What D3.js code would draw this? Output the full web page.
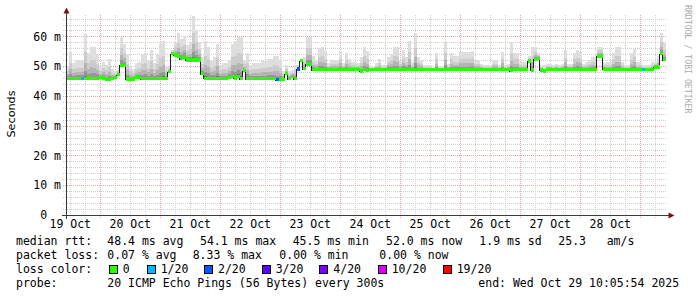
<!DOCTYPE html>
<html>
<head>
<meta charset="utf-8">
<script src="https://cdn.jsdelivr.net/npm/d3@7"></script>
<style>
  body { margin: 0; background: #fff; }
  svg text { font-family: "DejaVu Sans Mono", monospace; font-size: 11.5px; fill: #000; white-space: pre; }
</style>
</head>
<body>
<div id="chart"></div>
<script>
/* ::::::::::::::::::::::::::::::::::::::::::::::::::::::::::::::::::::::::::::::::::::: */
/* @@@ DATAS @@@ */
/* ::::::::::::::::::::::::::::::::::::::::::::::::::::::::::::::::::::::::::::::::::::: */

/* median rtt (ms), one value per 72 min, 19 Oct 10:05 -> 29 Oct 10:05 */
let median = [
  45.9, 45.9, 45.9, 45.9, 45.9, 45.9, 45.9, 46.0, 45.9, 45.8, 45.9, 46.2, 46.0, 45.7, 45.6, 45.9, 46.2, 47.1, 50.3, 50.2,
  45.7, 45.7, 45.7, 46.2, 46.3, 45.8, 45.8, 45.8, 45.8, 45.8, 45.8, 45.8, 45.8, 45.8, 48.2, 54.2, 53.8, 53.4, 52.5, 53.1,
  52.1, 52.1, 52.1, 52.1, 52.1, 47.5, 45.9, 45.9, 45.9, 45.9, 45.9, 45.8, 45.8, 45.8, 46.3, 46.5, 46.0, 46.6, 45.8, 48.5,
  45.8, 45.8, 45.8, 45.8, 45.8, 45.8, 45.8, 45.8, 45.8, 45.8, 45.5, 45.5, 45.5, 47.5, 45.8, 46.5, 45.8, 49.1, 51.9, 49.2,
  50.7, 50.6, 48.8, 48.8, 48.8, 48.8, 48.8, 48.8, 48.8, 48.8, 48.8, 48.8, 48.8, 48.8, 48.8, 48.8, 48.8, 48.8, 48.4, 48.8,
  48.6, 48.9, 48.9, 48.9, 48.9, 48.9, 48.9, 48.9, 48.9, 48.9, 48.8, 48.9, 48.9, 48.9, 48.9, 48.9, 48.9, 48.8, 48.9, 48.9,
  48.9, 48.9, 48.9, 48.9, 48.9, 48.9, 48.9, 48.9, 48.9, 48.9, 48.9, 48.9, 48.9, 48.9, 48.9, 48.9, 48.9, 48.9, 48.9, 48.9,
  48.9, 48.9, 48.9, 48.9, 48.9, 48.9, 48.9, 48.9, 48.5, 48.9, 48.9, 48.9, 48.8, 48.8, 51.7, 48.7, 52.3, 52.6, 48.7, 48.4,
  49.0, 48.9, 48.9, 48.9, 48.9, 48.9, 48.9, 48.9, 48.9, 48.9, 48.9, 48.9, 48.9, 48.9, 48.9, 48.9, 48.9, 53.4, 53.4, 49.1,
  48.9, 48.8, 48.8, 48.8, 48.8, 48.8, 48.8, 48.8, 48.8, 48.8, 48.8, 48.8, 48.8, 48.8, 48.8, 48.8, 49.7, 49.7, 54.2, 52.2
]

/* highest ping of each step (ms) = top of the smoke */
let smokeTop = [
  50.0, 54.8, 51.0, 52.0, 52.0, 52.0, 60.7, 54.5, 56.4, 56.4, 54.0, 50.0, 51.5, 50.5, 52.5, 49.0, 48.5, 49.5, 59.9, 57.5,
  54.0, 50.0, 49.0, 51.0, 51.5, 54.0, 54.5, 52.0, 55.5, 51.0, 54.0, 57.5, 58.6, 50.0, 50.0, 55.5, 58.0, 61.0, 59.0, 60.0,
  57.0, 58.0, 67.0, 62.0, 58.0, 53.0, 58.6, 56.5, 52.0, 53.0, 57.5, 50.5, 51.0, 51.0, 52.0, 57.5, 58.6, 59.7, 59.7, 52.0,
  54.5, 50.5, 51.0, 51.0, 51.0, 51.8, 51.8, 52.3, 52.3, 53.3, 53.3, 52.0, 48.5, 50.3, 48.5, 48.8, 50.5, 50.5, 52.5, 53.0,
  59.7, 59.7, 53.3, 52.0, 56.0, 56.4, 55.0, 51.0, 52.0, 52.0, 52.0, 55.0, 51.0, 54.5, 52.5, 51.5, 51.5, 51.0, 53.0, 56.4,
  55.0, 49.9, 49.9, 51.0, 52.4, 50.3, 50.3, 53.0, 54.0, 56.6, 56.6, 52.0, 55.3, 53.0, 58.5, 51.4, 61.0, 53.0, 52.0, 50.3,
  50.3, 50.3, 49.2, 54.5, 49.9, 49.9, 58.0, 50.8, 54.5, 53.3, 53.3, 54.7, 54.7, 54.7, 54.7, 55.2, 52.0, 52.0, 50.8, 50.3,
  50.3, 50.3, 52.0, 52.0, 50.3, 54.7, 50.3, 50.8, 57.9, 54.5, 54.6, 51.4, 51.4, 51.4, 53.3, 56.6, 56.6, 54.5, 50.3, 50.3,
  50.8, 50.8, 50.3, 50.8, 50.3, 50.8, 55.6, 50.8, 50.8, 54.6, 55.6, 54.7, 50.8, 51.4, 52.0, 53.0, 53.0, 56.6, 56.6, 51.0,
  51.4, 51.4, 54.5, 56.6, 56.6, 51.4, 50.3, 50.3, 54.5, 55.8, 51.4, 51.4, 50.3, 50.3, 50.3, 51.4, 51.4, 53.3, 61.0, 57.7
]

/* lost pings out of 20 for each step */
let loss = [
  0, 0, 0, 0, 0, 1, 0, 0, 0, 0, 0, 0, 0, 0, 0, 0, 0, 0, 0, 0,
  0, 0, 0, 0, 0, 0, 0, 0, 0, 0, 0, 0, 0, 0, 0, 0, 0, 0, 0, 0,
  0, 0, 0, 0, 0, 0, 0, 0, 0, 0, 0, 0, 0, 0, 0, 0, 0, 0, 0, 0,
  0, 0, 0, 0, 0, 0, 0, 0, 0, 0, 2, 0, 0, 0, 0, 0, 0, 2, 0, 0,
  0, 0, 0, 0, 0, 0, 0, 0, 0, 0, 0, 0, 0, 0, 0, 0, 0, 0, 0, 0,
  0, 0, 0, 0, 0, 0, 0, 0, 0, 0, 0, 0, 0, 0, 0, 0, 0, 0, 0, 0,
  0, 0, 0, 0, 0, 0, 0, 0, 0, 0, 0, 0, 0, 0, 0, 0, 0, 0, 0, 0,
  0, 0, 0, 0, 0, 0, 0, 0, 0, 0, 0, 0, 0, 0, 0, 0, 0, 0, 0, 0,
  0, 0, 0, 0, 0, 0, 0, 0, 0, 0, 0, 0, 0, 0, 0, 0, 0, 0, 0, 0,
  0, 0, 0, 0, 0, 0, 0, 0, 0, 0, 0, 0, 1, 0, 0, 0, 0, 0, 0, 0
]

let yTicks = [0, 10, 20, 30, 40, 50, 60]
let yTickLabels = ["0", "10 m", "20 m", "30 m", "40 m", "50 m", "60 m"]
let dayLabels = ["19 Oct", "20 Oct", "21 Oct", "22 Oct", "23 Oct", "24 Oct", "25 Oct", "26 Oct", "27 Oct", "28 Oct"]

let rttStats = ["48.4 ms avg", "54.1 ms max", "45.5 ms min", "52.0 ms now", "1.9 ms sd", "25.3", "am/s"]
let lossStats = ["0.07 % avg", "8.33 % max", "0.00 % min", "0.00 % now"]
let lossLevels = [0, 1, 2, 3, 4, 10, 19]
let lossLabels = ["0", "1/20", "2/20", "3/20", "4/20", "10/20", "19/20"]
let lossColors = ["#26ff00", "#00b8ff", "#0059ff", "#5e00ff", "#7e00ff", "#dd00ff", "#ff0000"]
let probeText = "20 ICMP Echo Pings (56 Bytes) every 300s"
let endText = "end: Wed Oct 29 10:05:54 2025"

/* ::::::::::::::::::::::::::::::::::::::::::::::::::::::::::::::::::::::::::::::::::::: */
/* @@@ CONSTANT & INITIALIZATION @@@ */
/* ::::::::::::::::::::::::::::::::::::::::::::::::::::::::::::::::::::::::::::::::::::: */

let w = 697
let h = 297
let end = new Date(Date.UTC(2025, 9, 29, 10, 5, 54))
let start = new Date(end.getTime() - 10 * 86400000)
let step = (end - start) / median.length
let gridGrey = "#cfcfcf"
let gridRed = "#e8a4a4"
let arrowColor = "#7f1010"

/* smoke shades, from the median up to the highest ping */
let smokeBands = [
  { from: 0.6, to: 1, color: "#dedede" },
  { from: 0.35, to: 0.6, color: "#cccccc" },
  { from: 0.17, to: 0.35, color: "#b4b4b4" },
  { from: 0.06, to: 0.17, color: "#969696" },
  { from: 0, to: 0.06, color: "#727272" }
]

let x = d3.scaleUtc().domain([start, end]).range([65.5, 665.5])
let y = d3.scaleLinear().domain([0, 67.2]).range([215, 15])

let points = median.map(function (m, i) {
  return { t0: new Date(start.getTime() + i * step), t1: new Date(start.getTime() + (i + 1) * step), med: m, top: smokeTop[i], loss: loss[i] }
})

/* @@@ fonction : couleur selon la perte @@@ */
let lossColor = function (n) {
  let c = lossColors[0]
  for (let k = 0; k < lossLevels.length; k++) {
    if (n >= lossLevels[k]) c = lossColors[k]
  }
  return c
}

let crisp = function (v) {
  return Math.round(v) + 0.5
}

let svg = d3.select("#chart").append("svg")
    .attr("width", w)
    .attr("height", h)

svg.append("rect").attr("width", w).attr("height", h).attr("fill", "#fff")

/* ::::::::::::::::::::::::::::::::::::::::::::::::::::::::::::::::::::::::::::::::::::: */
/* @@@ GRID @@@ */
/* ::::::::::::::::::::::::::::::::::::::::::::::::::::::::::::::::::::::::::::::::::::: */

let hours = d3.utcHour.every(6).range(start, end)
svg.append("g").selectAll("line")
    .data(hours)
    .enter()
    .append("line")
    .attr("x1", d => crisp(x(d)))
    .attr("x2", d => crisp(x(d)))
    .attr("y1", 15)
    .attr("y2", 218)
    .attr("stroke", d => d.getUTCHours() === 0 ? gridRed : gridGrey)
    .attr("stroke-dasharray", "1,1")

let minorY = d3.range(2, 67, 2)
svg.append("g").selectAll("line")
    .data(minorY)
    .enter()
    .append("line")
    .attr("x1", 63)
    .attr("x2", 666)
    .attr("y1", d => crisp(y(d)))
    .attr("y2", d => crisp(y(d)))
    .attr("stroke", d => d % 10 === 0 ? gridRed : gridGrey)
    .attr("stroke-dasharray", "1,1")

/* ::::::::::::::::::::::::::::::::::::::::::::::::::::::::::::::::::::::::::::::::::::: */
/* @@@ SMOKE + MEDIAN @@@ */
/* ::::::::::::::::::::::::::::::::::::::::::::::::::::::::::::::::::::::::::::::::::::: */

smokeBands.forEach(function (band) {
  svg.append("g").selectAll("rect")
      .data(points)
      .enter()
      .append("rect")
      .attr("shape-rendering", "crispEdges")
      .attr("fill", band.color)
      .attr("x", d => x(d.t0))
      .attr("width", d => x(d.t1) - x(d.t0))
      .attr("y", d => y(d.med + band.to * (d.top - d.med)))
      .attr("height", d => y(d.med + band.from * (d.top - d.med)) - y(d.med + band.to * (d.top - d.med)))
})

let medLine = d3.line()
    .curve(d3.curveStepAfter)
    .x(d => x(d.t))
    .y(d => crisp(y(d.v)))

let medPts = points.map(d => ({ t: d.t0, v: d.med }))
medPts.push({ t: end, v: median[median.length - 1] })

svg.append("path")
    .attr("d", medLine(medPts))
    .attr("fill", "none")
    .attr("stroke", "#202020")
    .attr("stroke-width", 1)
    .attr("shape-rendering", "crispEdges")

svg.append("g").selectAll("rect")
    .data(points)
    .enter()
    .append("rect")
    .attr("shape-rendering", "crispEdges")
    .attr("fill", d => lossColor(d.loss))
    .attr("x", d => x(d.t0))
    .attr("width", d => x(d.t1) - x(d.t0))
    .attr("y", d => y(d.med + 0.55))
    .attr("height", d => y(d.med - 0.55) - y(d.med + 0.55))

/* ::::::::::::::::::::::::::::::::::::::::::::::::::::::::::::::::::::::::::::::::::::: */
/* @@@ AXES @@@ */
/* ::::::::::::::::::::::::::::::::::::::::::::::::::::::::::::::::::::::::::::::::::::: */

svg.append("line").attr("x1", 66.5).attr("x2", 66.5).attr("y1", 12).attr("y2", 219).attr("stroke", "#3a3a3a")
svg.append("line").attr("x1", 62).attr("x2", 670).attr("y1", 215.5).attr("y2", 215.5).attr("stroke", "#3a3a3a")
svg.append("path").attr("d", "M63.5,13.5 L66.5,7.5 L69.5,13.5 Z").attr("fill", arrowColor)
svg.append("path").attr("d", "M668.5,212.5 L674.5,215.5 L668.5,218.5 Z").attr("fill", arrowColor)

/* rrdtool pads the "0" label like the "10 m" ones : two character cells to the left */
svg.append("g").selectAll("text")
    .data(yTicks)
    .enter()
    .append("text")
    .attr("x", (d, i) => yTickLabels[i].length === 1 ? 61 - 2 * 6.93 : 61)
    .attr("y", d => y(d) + 4.2)
    .attr("text-anchor", "end")
    .text((d, i) => yTickLabels[i])

svg.append("g").selectAll("text")
    .data(dayLabels)
    .enter()
    .append("text")
    .attr("x", (d, i) => x(d3.utcHour.offset(d3.utcDay.floor(start), 12 + 24 * i)))
    .attr("y", 228)
    .attr("text-anchor", "middle")
    .text(d => d)

svg.append("text")
    .attr("transform", "translate(15,114) rotate(-90)")
    .attr("text-anchor", "middle")
    .style("font-family", "'DejaVu Sans', sans-serif")
    .style("font-size", "11.2px")
    .text("Seconds")

svg.append("text")
    .attr("transform", "translate(685,5) rotate(90)")
    .style("font-size", "8.2px")
    .style("fill", "#aaaaaa")
    .text("RRDTOOL / TOBI OETIKER")

/* ::::::::::::::::::::::::::::::::::::::::::::::::::::::::::::::::::::::::::::::::::::: */
/* @@@ LEGEND @@@ */
/* ::::::::::::::::::::::::::::::::::::::::::::::::::::::::::::::::::::::::::::::::::::: */

let legend = svg.append("g")
let rttX = [107.3, 200, 292.7, 386, 479.3, 558.3, 606.7]
let lossX = [107.3, 192.7, 279.3, 379.3]
let boxX = [108.7, 146.7, 204, 261.7, 319.3, 377.7, 442.7]

legend.append("text").attr("x", 16).attr("y", 245).text("median rtt:")
rttStats.forEach((s, i) => legend.append("text").attr("x", rttX[i]).attr("y", 245).text(s))

legend.append("text").attr("x", 16).attr("y", 259).text("packet loss:")
lossStats.forEach((s, i) => legend.append("text").attr("x", lossX[i]).attr("y", 259).text(s))

legend.append("text").attr("x", 16).attr("y", 272.8).text("loss color:")
lossLabels.forEach(function (s, i) {
  legend.append("rect")
      .attr("x", Math.round(boxX[i]) + 0.5)
      .attr("y", 265.5)
      .attr("width", 8)
      .attr("height", 8)
      .attr("fill", lossColors[i])
      .attr("stroke", "#000")
  legend.append("text").attr("x", boxX[i] + 14).attr("y", 272.8).text(s)
})

legend.append("text").attr("x", 16).attr("y", 286.5).text("probe:")
legend.append("text").attr("x", 107.3).attr("y", 286.5).text(probeText)
legend.append("text").attr("x", 478.3).attr("y", 286.5).text(endText)
</script>
</body>
</html>
